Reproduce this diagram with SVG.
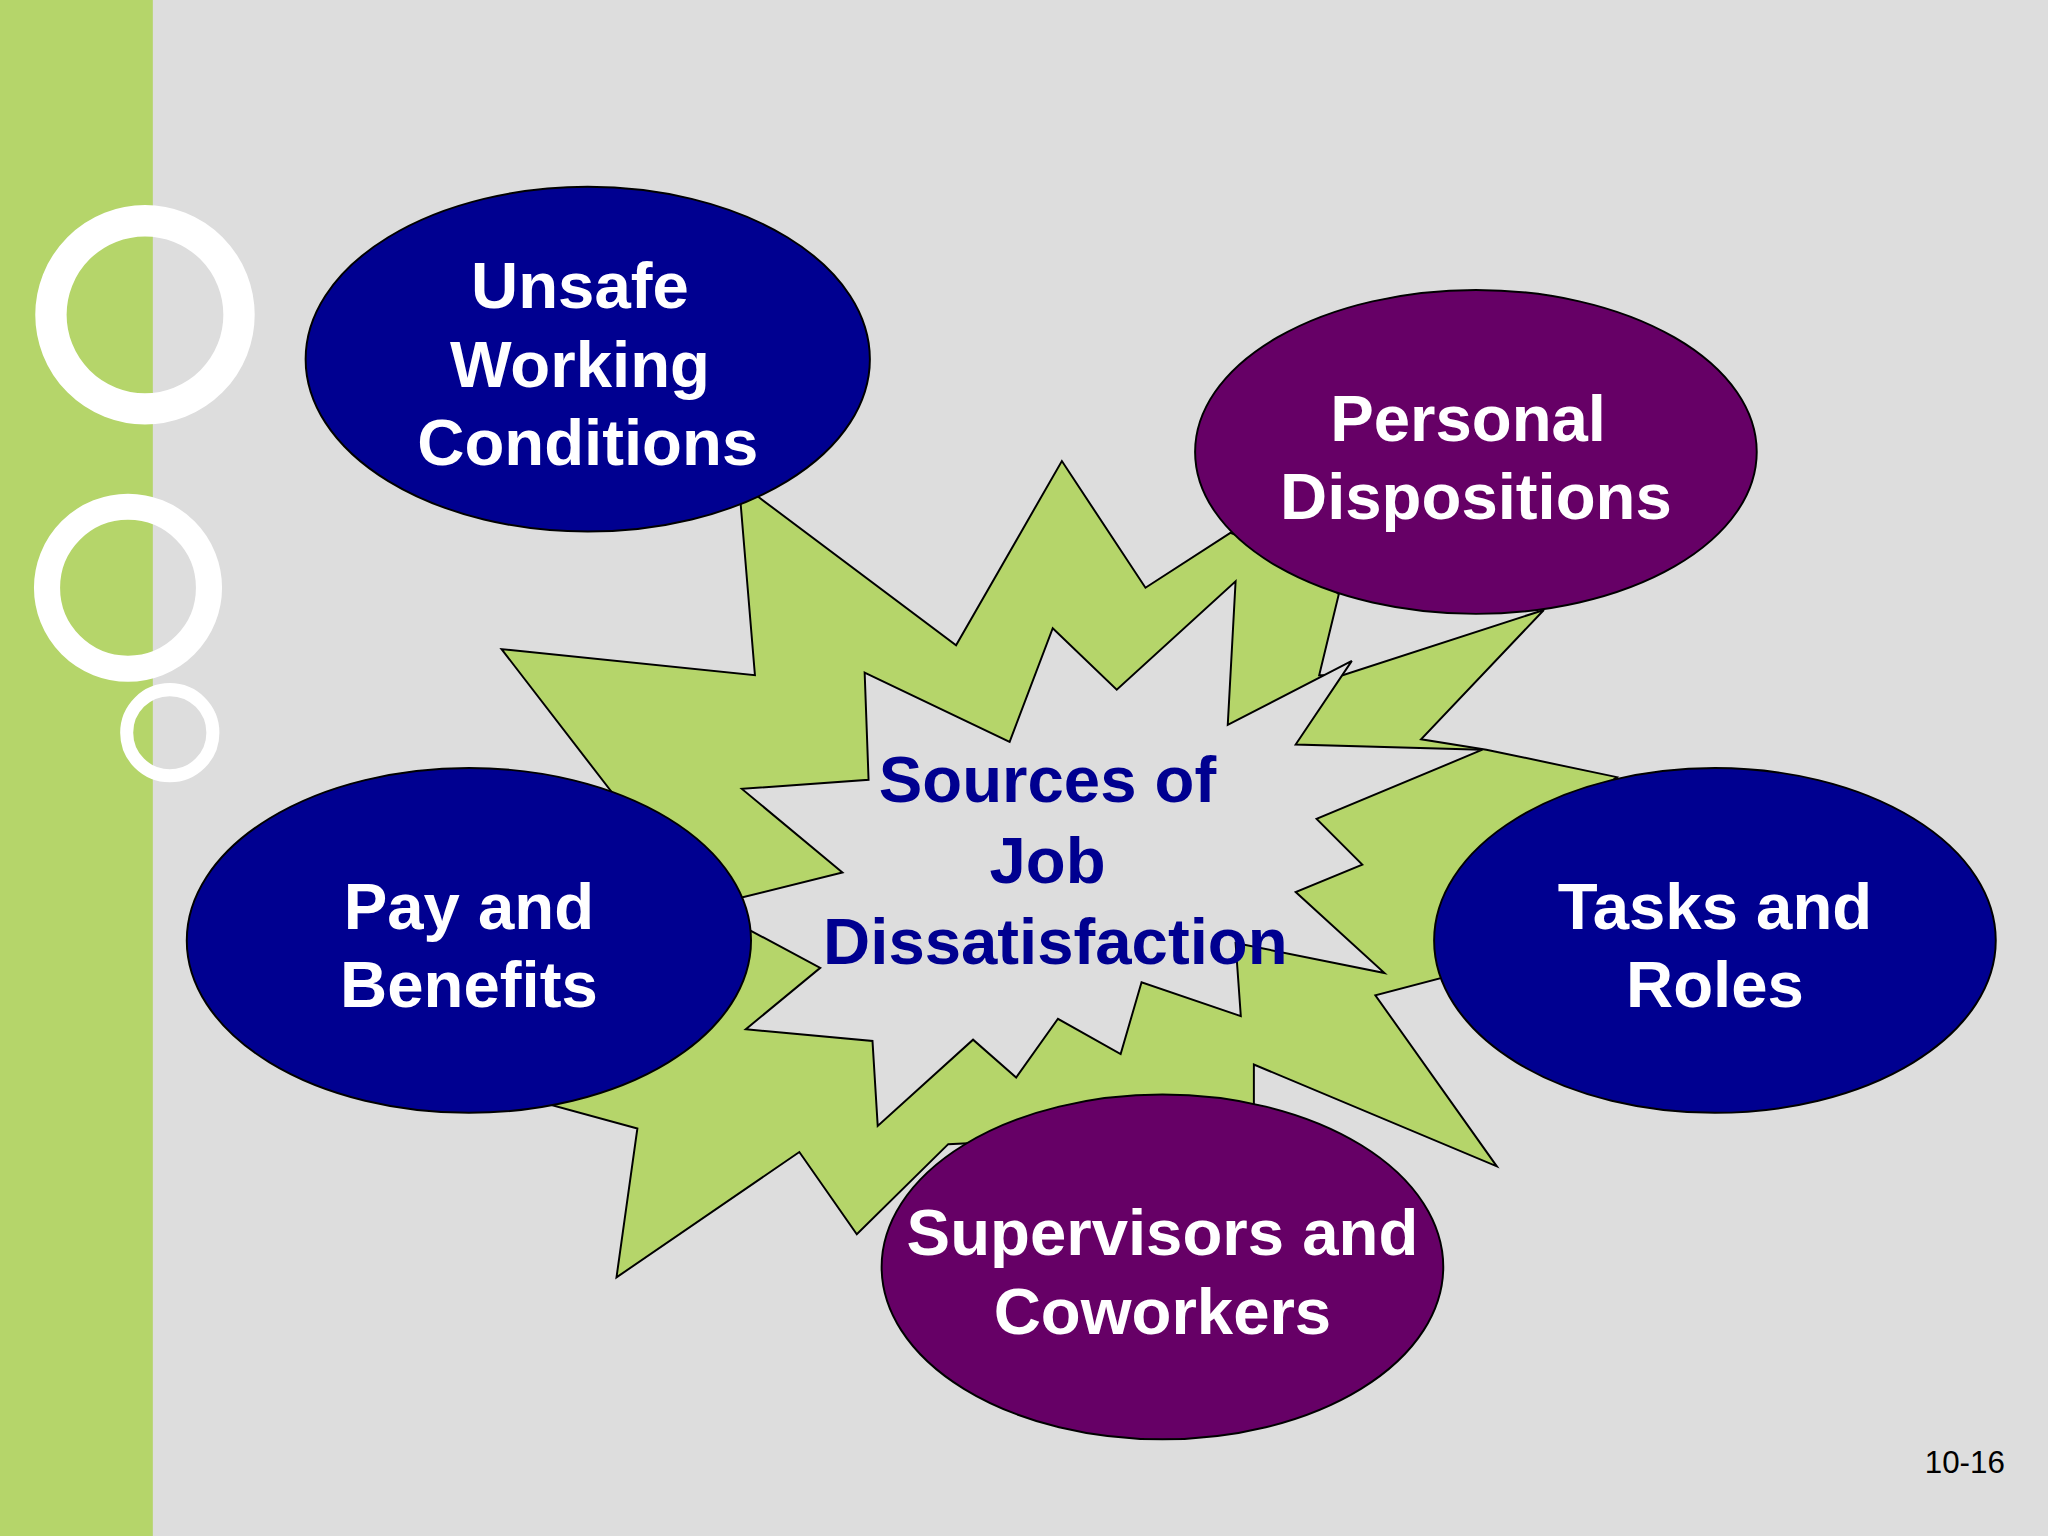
<svg xmlns="http://www.w3.org/2000/svg" width="2048" height="1536" viewBox="0 0 2048 1536">
<style>
.e{stroke:#000;stroke-width:1.5}
.b{fill:#000090}.p{fill:#660066}
.t{font-family:"Liberation Sans",Arial,sans-serif;font-weight:bold;font-size:50px;fill:#fff;text-anchor:middle}
.c{font-family:"Liberation Sans",Arial,sans-serif;font-weight:bold;font-size:50px;fill:#000090;text-anchor:middle}
.r{fill:none;stroke:#fff}
</style>
<g transform="scale(1.30612)">
<rect width="1568" height="1176" fill="#dddddd"/>
<rect width="117" height="1176" fill="#b5d56a"/>
<circle class="r" cx="111" cy="241" r="72" stroke-width="24"/>
<circle class="r" cx="98" cy="450" r="62" stroke-width="20"/>
<circle class="r" cx="130" cy="561" r="33" stroke-width="10"/>
<g id="connectors">
<polygon fill="#b5d56a" stroke="#000" stroke-width="1.5" points="580,380 732,494 813,353 877,450 942,408 1000,430 1025,455 1010,517 1028,517 1182,467 1088,566 1138,574 1238,595 1150,660 1103,749 1053,762 1146,893 960,815 960,845 850,870 726,876 656,945 612,882 472,978 488,864 422,846 400,700 468,606 384,497 578,517 567,385"/>
<polygon fill="#dddddd" stroke="#000" stroke-width="1.5" points="662,515 773,568 806,481 855,528 946,445 940,555 1035,506 992,570 1135,574 1008,627 1043,662 992,683 1060,745 946,722 950,778 874,752 858,807 810,780 778,825 745,796 672,862 668,797 571,788 628,741 540,694 645,668 568,604 665,597"/>
</g>
<g id="center"><text class="c" x="802" y="614">Sources of</text><text class="c" x="802" y="676">Job</text><text class="c" x="808" y="738">Dissatisfaction</text></g>
<g id="unsafe"><ellipse class="e b" cx="450" cy="275" rx="216" ry="132"/><text class="t" x="444" y="236">Unsafe</text><text class="t" x="444" y="296">Working</text><text class="t" x="450" y="356">Conditions</text></g>
<g id="personal"><ellipse class="e p" cx="1130" cy="346" rx="215" ry="124"/><text class="t" x="1124" y="338">Personal</text><text class="t" x="1130" y="397">Dispositions</text></g>
<g id="pay"><ellipse class="e b" cx="359" cy="720" rx="216" ry="132"/><text class="t" x="359" y="711">Pay and</text><text class="t" x="359" y="771">Benefits</text></g>
<g id="tasks"><ellipse class="e b" cx="1313" cy="720" rx="215" ry="132"/><text class="t" x="1313" y="711">Tasks and</text><text class="t" x="1313" y="771">Roles</text></g>
<g id="supervisors"><ellipse class="e p" cx="890" cy="970" rx="215" ry="132"/><text class="t" x="890" y="961">Supervisors and</text><text class="t" x="890" y="1021">Coworkers</text></g>
<text x="1535" y="1128" font-family="Liberation Sans,Arial,sans-serif" font-size="24" text-anchor="end" fill="#000">10-16</text>
</g>
</svg>
